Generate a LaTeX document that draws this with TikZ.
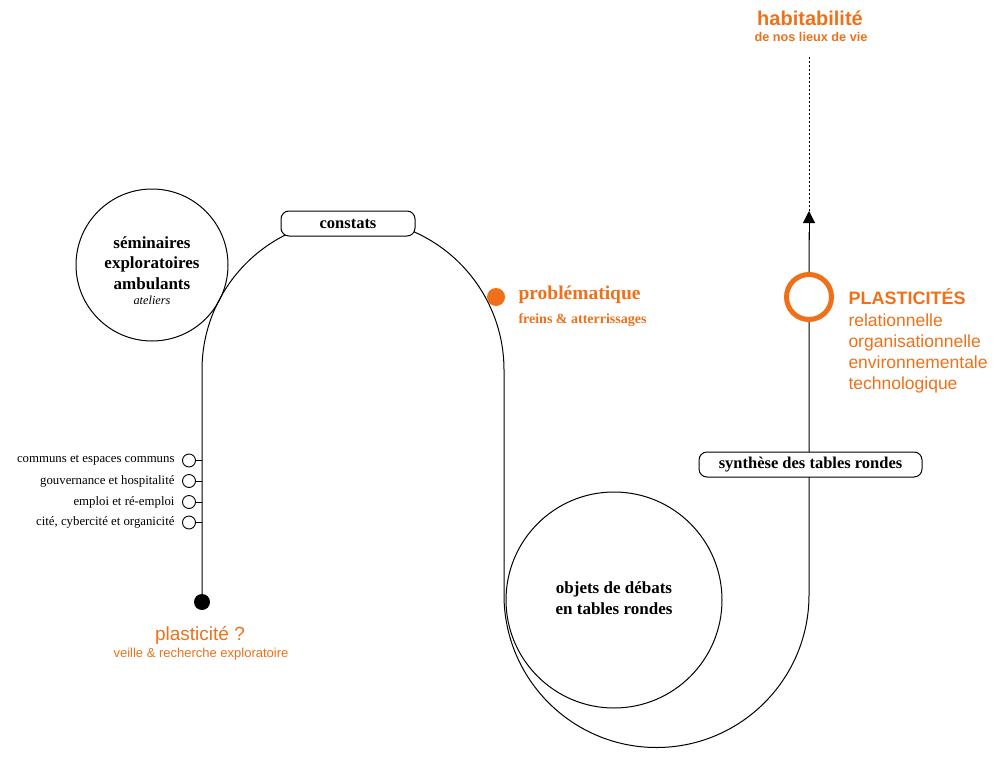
\documentclass[tikz,border=0pt]{standalone}
\usepackage{fontspec}
\setmainfont{Liberation Serif}
\setsansfont{Liberation Sans}
\usetikzlibrary{arrows.meta}
\definecolor{orng}{RGB}{240,112,25}
\begin{document}
\begin{tikzpicture}[x=1pt,y=-1pt,line width=1pt,
  pill/.style={draw,rounded corners=8pt,fill=white,inner sep=0pt,minimum height=25pt},
  serb/.style={font=\bfseries\fontsize{17}{20.5}\selectfont,align=center},
  item/.style={anchor=east,font=\fontsize{12.8}{14}\selectfont,inner sep=0pt},
  knob/.style={circle,draw,fill=white,minimum size=13pt,inner sep=0pt,line width=0.9pt},
  osans/.style={text=orng,font=\sffamily},
]
\useasboundingbox (0,0) rectangle (1000,757);

% main path
\coordinate (start) at (202,602);
\coordinate (tl) at (202,370);
\coordinate (br) at (504,595);
\coordinate (tip) at (809,211);
\coordinate (top) at (809,57);
\draw (start) -- (tl) arc[start angle=180,end angle=360,radius=151] -- (br)
  arc[start angle=180,end angle=0,radius=152.5] -- (809,232);
\draw[-{Triangle[length=12pt,width=12pt]}] (809,240) -- (tip);
\draw[line width=0.9pt,dash pattern=on 2pt off 2pt] (tip) -- (top);

% circles
\node[circle,draw,minimum size=152pt,inner sep=0pt] (sem) at (152,265) {};
\node[serb,inner sep=0pt] (semt) at (152,263) {séminaires\\exploratoires\\ambulants};
\node[font=\itshape\fontsize{12.3}{13}\selectfont,inner sep=0pt] (atel) at (152,300) {ateliers};

\node[circle,draw,minimum size=216pt,inner sep=0pt] (deb) at (614,600) {};
\node[serb,inner sep=0pt] (debt) at (614,598) {objets de débats\\en tables rondes};

% boxes
\node[pill,minimum width=134pt,font=\bfseries\fontsize{16.5}{17}\selectfont] (const) at (348,223.5) {constats};
\node[pill,minimum width=223pt,font=\bfseries\fontsize{16.5}{17}\selectfont] (synth) at (810.5,464.5) {synthèse des tables rondes};

% list items
\foreach \i/\yy/\t in {1/460.5/communs et espaces communs,2/481/gouvernance et hospitalité,3/502/emploi et ré-emploi,4/522.5/{cité, cybercité et organicité}}{
  \coordinate (j\i) at (202,\yy);
  \node[knob] (k\i) at (189,\yy) {};
  \draw[line width=0.9pt] (k\i) -- (j\i);
  \node[item] (l\i) at (175,\yy) {\t};
}

% start dot
\node[circle,fill=black,minimum size=16pt,inner sep=0pt] (dot) at (start) {};
\node[osans,font=\sffamily\fontsize{19}{20}\selectfont] (plq) at (200,635) {plasticité ?};
\node[osans,font=\sffamily\fontsize{13}{14}\selectfont] (veil) at (201,654) {veille \& recherche exploratoire};

% problematique
\node[circle,fill=orng,minimum size=18pt,inner sep=0pt] (odot) at (496,297) {};
\node[anchor=west,text=orng,font=\bfseries\fontsize{19.5}{20}\selectfont,inner sep=0pt] (prob) at (518,295) {problématique};
\node[anchor=west,text=orng,font=\bfseries\fontsize{14}{14}\selectfont,inner sep=0pt] (frein) at (518,320) {freins \& atterrissages};

% plasticites
\node[circle,draw=orng,line width=5pt,fill=white,minimum size=45pt,inner sep=0pt] (ring) at (809,297) {};
\node[anchor=west,osans,font=\sffamily\bfseries\fontsize{18}{20}\selectfont,inner sep=0pt] (plas) at (848,297) {PLASTICITÉS};
\node[anchor=north west,osans,font=\sffamily\fontsize{17.5}{21.2}\selectfont,align=left,inner sep=0pt] (plist) at (848,313) {relationnelle\\organisationnelle\\environnementale\\technologique};

% habitabilite
\node[osans,font=\sffamily\bfseries\fontsize{20}{22}\selectfont] (hab) at (810,18) {habitabilité};
\node[osans,font=\sffamily\bfseries\fontsize{12.7}{14}\selectfont] (lieux) at (811,37) {de nos lieux de vie};
\end{tikzpicture}
\end{document}
